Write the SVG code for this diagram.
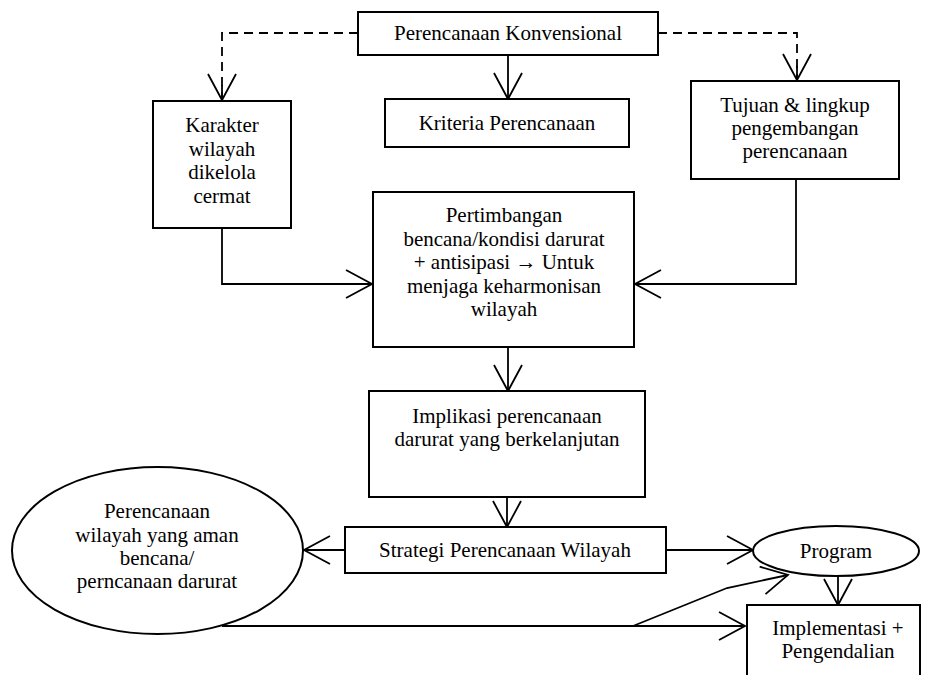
<svg xmlns="http://www.w3.org/2000/svg" width="925" height="675" viewBox="0 0 925 675">
<style>
.box{fill:#fff;stroke:#000;stroke-width:2}
.ln{fill:none;stroke:#000;stroke-width:1.8}
.dash{fill:none;stroke:#000;stroke-width:1.8;stroke-dasharray:9,6}
text{font-family:"Liberation Serif","Times New Roman",serif;font-size:21px;fill:#000;text-anchor:middle}
</style>
<defs>
<marker id="ah" markerUnits="userSpaceOnUse" markerWidth="30" markerHeight="30" viewBox="0 0 30 30" refX="27" refY="14" orient="auto" overflow="visible">
<path d="M1,0 L27,14 L1,28" fill="none" stroke="#000" stroke-width="1.8"/>
</marker>
</defs>
<rect width="925" height="675" fill="#fff"/>
<g id="connectors">
<path class="dash" d="M358,33 H222 V99"/>
<path class="ln" d="M222,85 V100" marker-end="url(#ah)"/>
<path class="dash" d="M658,33 H797 V80"/>
<path class="ln" d="M797,66 V80" marker-end="url(#ah)"/>
<path class="ln" d="M508,55 V99" marker-end="url(#ah)"/>
<path class="ln" d="M222,228 V284 H372" marker-end="url(#ah)"/>
<path class="ln" d="M796,179 V284 H635" marker-end="url(#ah)"/>
<path class="ln" d="M508,347 V391" marker-end="url(#ah)"/>
<path class="ln" d="M507,497 V527" marker-end="url(#ah)"/>
<path class="ln" d="M345,550 H304" marker-end="url(#ah)"/>
<path class="ln" d="M666,550 H753" marker-end="url(#ah)"/>
<path class="ln" d="M838,576 V605" marker-end="url(#ah)"/>
<path class="ln" d="M222,626 H745" marker-end="url(#ah)"/>
<path class="ln" d="M633,626 L727,588 L788,575" marker-end="url(#ah)"/>
</g>
<g id="n-konvensional">
<rect class="box" x="358" y="12" width="300" height="43"/>
<text x="508" y="40">Perencanaan Konvensional</text>
</g>
<g id="n-karakter">
<rect class="box" x="153" y="101" width="138" height="127"/>
<text x="222" y="132">Karakter</text>
<text x="222" y="156">wilayah</text>
<text x="222" y="179">dikelola</text>
<text x="222" y="203">cermat</text>
</g>
<g id="n-kriteria">
<rect class="box" x="385" y="99" width="244" height="48"/>
<text x="507" y="130">Kriteria Perencanaan</text>
</g>
<g id="n-tujuan">
<rect class="box" x="691" y="81" width="208" height="98"/>
<text x="795" y="112">Tujuan &amp; lingkup</text>
<text x="795" y="135">pengembangan</text>
<text x="795" y="158">perencanaan</text>
</g>
<g id="n-pertimbangan">
<rect class="box" x="373" y="192" width="261" height="155"/>
<text x="504" y="222">Pertimbangan</text>
<text x="504" y="245.5">bencana/kondisi darurat</text>
<text x="504" y="269">+ antisipasi → Untuk</text>
<text x="504" y="292.5">menjaga keharmonisan</text>
<text x="504" y="316">wilayah</text>
</g>
<g id="n-implikasi">
<rect class="box" x="369" y="391" width="276" height="106"/>
<text x="507" y="423">Implikasi perencanaan</text>
<text x="507" y="446">darurat yang berkelanjutan</text>
</g>
<g id="n-strategi">
<rect class="box" x="345" y="527" width="321" height="46"/>
<text x="505" y="557">Strategi Perencanaan Wilayah</text>
</g>
<g id="n-aman">
<ellipse class="box" cx="157.5" cy="550.5" rx="145.5" ry="83.5"/>
<text x="157" y="518">Perencanaan</text>
<text x="157" y="541.5">wilayah yang aman</text>
<text x="157" y="564.5">bencana/</text>
<text x="157" y="588">perncanaan darurat</text>
</g>
<g id="n-program">
<ellipse class="box" cx="836" cy="551" rx="83" ry="25"/>
<text x="836" y="558">Program</text>
</g>
<g id="n-implementasi">
<rect class="box" x="747" y="605" width="173" height="100"/>
<text x="838" y="635">Implementasi +</text>
<text x="838" y="658">Pengendalian</text>
</g>
</svg>
